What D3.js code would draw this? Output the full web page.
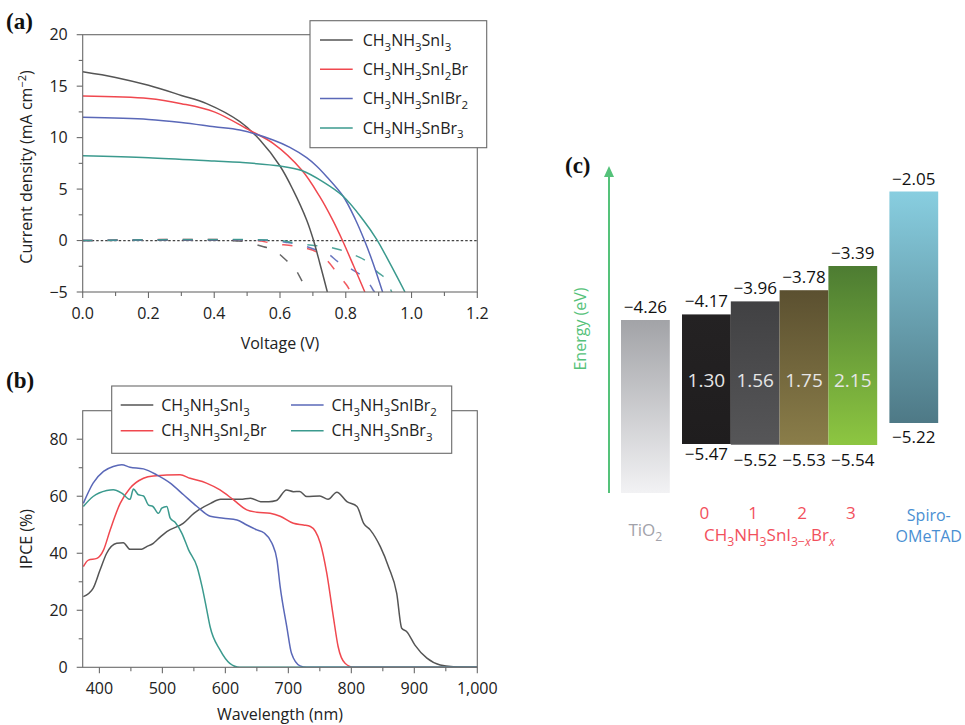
<!DOCTYPE html>
<html>
<head>
<meta charset="utf-8">
<script src="https://cdn.jsdelivr.net/npm/d3@7"></script>
<style>
  body { margin: 0; background: #fff; }
  svg { display: block; font-family: "Open Sans", "DejaVu Sans", sans-serif; }
</style>
</head>
<body>
<svg id="fig" width="965" height="725"></svg>
<script>
// ---- data: panel (a) J-V curves, [V, J] ----
const seriesNames = ["CH_3NH_3SnI_3", "CH_3NH_3SnI_2Br", "CH_3NH_3SnIBr_2", "CH_3NH_3SnBr_3"];
const seriesColors = ["#555555", "#f0484f", "#5a68b8", "#3b9a8e"];

const jvLight_SnI3 = [[0, 16.4], [0.1, 15.85], [0.2, 15.08], [0.3, 14.1], [0.377, 13.3], [0.478, 11.55], [0.539, 9.77],
  [0.6, 7.24], [0.64, 4.9], [0.681, 2.0], [0.701, 0.12], [0.721, -2.2], [0.744, -5]];
const jvLight_SnI2Br = [[0, 14.04], [0.2, 13.8], [0.3, 13.3], [0.4, 12.5], [0.508, 10.7], [0.579, 9.44], [0.666, 6.85],
  [0.721, 4.26], [0.76, 2.0], [0.79, 0], [0.823, -2.4], [0.858, -5]];
const jvLight_SnIBr2 = [[0, 11.97], [0.2, 11.77], [0.3, 11.48], [0.4, 11.06], [0.478, 10.74], [0.579, 9.77], [0.63, 9.05],
  [0.681, 8.05], [0.711, 7.24], [0.742, 6.2], [0.792, 4.3], [0.83, 2.0], [0.857, 0], [0.883, -2.2], [0.912, -5]];
const jvLight_SnBr3 = [[0, 8.24], [0.2, 8.05], [0.4, 7.73], [0.478, 7.6], [0.6, 7.24], [0.666, 6.8], [0.731, 5.7],
  [0.792, 4.3], [0.853, 2.0], [0.894, 0.12], [0.934, -2.2], [0.98, -5]];
const jvDark_SnI3 = [[0, 0], [0.44, 0], [0.49, -0.1], [0.55, -0.6], [0.58, -0.9], [0.624, -2.06], [0.645, -2.7],
  [0.676, -4.5], [0.685, -5]];
const jvDark_SnI2Br = [[0, 0], [0.53, 0], [0.58, -0.3], [0.655, -0.6], [0.711, -1.1], [0.742, -1.9], [0.782, -3.5],
  [0.802, -4.3], [0.815, -5]];
const jvDark_SnIBr2 = [[0, 0], [0.58, 0], [0.624, -0.2], [0.655, -0.35], [0.711, -0.9], [0.742, -1.2], [0.782, -2.2],
  [0.813, -2.7], [0.863, -3.8], [0.883, -4.8], [0.888, -5]];
const jvDark_SnBr3 = [[0, 0], [0.6, 0], [0.655, -0.3], [0.711, -0.5], [0.742, -0.6], [0.782, -0.9], [0.818, -1.3],
  [0.863, -2.0], [0.894, -3.0], [0.924, -3.8], [0.934, -4.6], [0.94, -5]];
const jvLight = [jvLight_SnI3, jvLight_SnI2Br, jvLight_SnIBr2, jvLight_SnBr3];
const jvDark = [jvDark_SnI3, jvDark_SnI2Br, jvDark_SnIBr2, jvDark_SnBr3];
const voltageTicks = [0, 0.2, 0.4, 0.6, 0.8, 1.0, 1.2];
const currentTicks = [-5, 0, 5, 10, 15, 20];

// ---- data: panel (b) IPCE, [nm, %] ----
const ipce_SnI3 = [[374.5, 24.8], [390, 27.7], [401, 34.1], [411.6, 40], [427.5, 43.5], [438, 43.7], [448.6, 41.4], [467, 41.4],
  [475, 42.3], [485.6, 43.5], [493, 45], [507, 47.6], [533, 50.5], [550, 54], [576.6, 57.5], [592.5, 58.9], [624, 58.9],
  [640, 59.3], [656, 58.1], [669, 58.1], [681, 58.5], [697, 62.2], [708, 61.6], [718, 61.7], [729, 59.9], [750, 60.1],
  [763, 58.9], [777, 61.4], [793, 58.1], [809, 56.4], [819.6, 50.5], [830, 48.2], [846, 42.3], [859, 35.3], [872, 26],
  [880, 13.7], [888, 12.5], [901, 7.8], [920, 3.2], [941, 0.8], [962, 0.2], [1000, 0]];
const ipce_SnI2Br = [[374.5, 35.3], [382.5, 37.6], [396, 38.2], [406.5, 41.1], [417, 48.1], [433, 57.5], [448.6, 62.8],
  [470, 66.3], [485.6, 67.1], [528, 67.5], [544, 66.3], [570, 64.6], [591.5, 62.2], [613, 58.7], [634, 55.2], [650, 54.4],
  [671, 54], [687, 53], [708, 50.5], [724, 49.9], [735, 49.4], [750.8, 43.5], [761, 33], [771.4, 17.8], [779, 7.3],
  [790, 1.4], [803, 0], [1000, 0]];
const ipce_SnIBr2 = [[374.5, 57.5], [390, 64.6], [406.5, 68.7], [422, 70.4], [435.5, 71], [448.6, 70.2], [470, 69.6],
  [491, 67.5], [512.5, 64.6], [533.6, 60.5], [555, 56.4], [576, 53], [597, 52.3], [618.5, 51.7], [634, 49.9], [650, 48.2],
  [661, 47.2], [674, 43.5], [682, 37.6], [687, 28.3], [697.5, 14.3], [705, 4.9], [718.5, 0.5], [729, 0], [1000, 0]];
const ipce_SnBr3 = [[374.5, 56.4], [390, 59.9], [411.6, 62], [422, 62.3], [435.5, 61.1], [448.6, 58.9], [454, 62.5],
  [462, 60.5], [470, 60.1], [478, 56.9], [485, 56.4], [494, 54], [499, 55.8], [507, 56.4], [512.5, 52.3], [520.5, 50.8],
  [531, 47], [541.6, 41.2], [555, 35.3], [563, 28.3], [570, 20.7], [575.7, 14.3], [591.5, 6.1], [607, 1.4], [623, 0], [1000, 0]];
const ipce = [ipce_SnI3, ipce_SnI2Br, ipce_SnIBr2, ipce_SnBr3];
const wavelengthTicks = [400, 500, 600, 700, 800, 900, 1000];
const ipceTicks = [0, 20, 40, 60, 80];

// ---- data: panel (c) energy levels (eV) ----
const bromineCount = ["0", "1", "2", "3"];
const perovskiteCB = [-4.17, -3.96, -3.78, -3.39];
const perovskiteVB = [-5.47, -5.52, -5.53, -5.54];
const bandGaps = ["1.30", "1.56", "1.75", "2.15"];
const tio2CB = -4.26;
const spiroLUMO = -2.05;
const spiroHOMO = -5.22;

const svg = d3.select("#fig");

// write "CH_3NH_3SnI_{3−x}Br_x" with subscripts
function rich(text, str, size) {
  const re = /_\{([^}]*)\}|_(.)|([^_]+)/g;
  let m, down = false;
  while ((m = re.exec(str))) {
    if (m[3]) {
      const t = text.append("tspan").text(m[3]);
      if (down) { t.attr("dy", -size * 0.3); down = false; }
    } else {
      const s = m[1] || m[2];
      const parts = s.endsWith("x") && s.length > 1 ? [s.slice(0, -1), "x"] : [s];
      parts.forEach(p => {
        const t = text.append("tspan").text(p).attr("font-size", size * 0.72);
        if (p === "x") t.attr("font-style", "italic");
        if (!down) { t.attr("dy", size * 0.3); down = true; }
      });
    }
  }
}

function panelLabel(x, y, s) {
  svg.append("text").attr("x", x).attr("y", y).text(s)
    .attr("font-family", "'Liberation Serif', 'Times New Roman', serif")
    .attr("font-weight", "bold").attr("font-size", 23).attr("fill", "#111");
}

function frame(xs, ys, xTicks, xMinor, yTicks, yMinor, fmtX) {
  const [x0, x1] = xs.range(), [y0, y1] = ys.range();
  const g = svg.append("g").attr("stroke", "#6a6a6a").attr("stroke-width", 1.1);
  g.append("rect").attr("x", x0).attr("y", y1).attr("width", x1 - x0).attr("height", y0 - y1).attr("fill", "none");
  xMinor.forEach(v => g.append("line").attr("x1", xs(v)).attr("x2", xs(v)).attr("y1", y0).attr("y2", y0 + 4));
  xTicks.forEach(v => g.append("line").attr("x1", xs(v)).attr("x2", xs(v)).attr("y1", y0).attr("y2", y0 + 6));
  yMinor.forEach(v => g.append("line").attr("x1", x0 - 4).attr("x2", x0).attr("y1", ys(v)).attr("y2", ys(v)));
  yTicks.forEach(v => g.append("line").attr("x1", x0 - 6).attr("x2", x0).attr("y1", ys(v)).attr("y2", ys(v)));
  svg.append("g").selectAll("text").data(xTicks).join("text")
    .attr("x", d => xs(d)).attr("y", y0 + 27).attr("text-anchor", "middle")
    .attr("font-size", 16).attr("fill", "#222").text(fmtX);
  svg.append("g").selectAll("text").data(yTicks).join("text")
    .attr("x", x0 - 15).attr("y", d => ys(d)).attr("dy", "0.35em").attr("text-anchor", "end")
    .attr("font-size", 16).attr("fill", "#222").text(d => d < 0 ? "\u2212" + Math.abs(d) : d);
}

// ================= panel (a) =================
const xA = d3.scaleLinear().domain([0, 1.2]).range([82.7, 477.3]);
const yA = d3.scaleLinear().domain([-5, 20]).range([292, 34.7]);
svg.append("clipPath").attr("id", "clipA").append("rect")
  .attr("x", xA(0)).attr("y", yA(20)).attr("width", xA(1.2) - xA(0)).attr("height", yA(-5) - yA(20));

svg.append("line").attr("x1", xA(0)).attr("x2", xA(1.2)).attr("y1", yA(0)).attr("y2", yA(0))
  .attr("stroke", "#444").attr("stroke-width", 1.3).attr("stroke-dasharray", "2.5,2");

const lineA = d3.line().x(d => xA(d[0])).y(d => yA(d[1])).curve(d3.curveCatmullRom.alpha(0.5));
const gA = svg.append("g").attr("clip-path", "url(#clipA)").attr("fill", "none").attr("stroke-width", 1.5);
jvDark.forEach((s, i) => gA.append("path").attr("d", lineA(s)).attr("stroke", seriesColors[i])
  .attr("stroke-dasharray", "10,15").attr("opacity", 0.9));
jvLight.forEach((s, i) => gA.append("path").attr("d", lineA(s)).attr("stroke", seriesColors[i]));

frame(xA, yA, voltageTicks, d3.range(0.1, 1.2, 0.2), currentTicks, d3.range(-2.5, 20, 5), d => d.toFixed(1));

svg.append("text").attr("x", 280).attr("y", 349).attr("text-anchor", "middle").attr("font-size", 16)
  .attr("fill", "#222").text("Voltage (V)");
const yLabA = svg.append("text").attr("transform", "translate(32,167) rotate(-90)").attr("text-anchor", "middle")
  .attr("font-size", 16).attr("fill", "#222");
yLabA.append("tspan").text("Current density (mA cm");
yLabA.append("tspan").text("\u22122").attr("font-size", 11).attr("dy", -6);
yLabA.append("tspan").text(")").attr("dy", 6);

const legA = svg.append("g");
legA.append("rect").attr("x", 310).attr("y", 20.7).attr("width", 176.7).attr("height", 127)
  .attr("fill", "#fff").attr("stroke", "#6a6a6a").attr("stroke-width", 1.1);
seriesNames.forEach((n, i) => {
  const y = 40 + i * 29.3;
  legA.append("line").attr("x1", 320).attr("x2", 352.7).attr("y1", y).attr("y2", y)
    .attr("stroke", seriesColors[i]).attr("stroke-width", 1.5);
  rich(legA.append("text").attr("x", 362.7).attr("y", y + 5.7).attr("font-size", 16).attr("fill", "#222"), n, 16);
});
panelLabel(6, 29, "(a)");

// ================= panel (b) =================
const xB = d3.scaleLinear().domain([373.5, 1000]).range([82.7, 477.3]);
const yB = d3.scaleLinear().domain([0, 90]).range([667.3, 410.7]);
svg.append("clipPath").attr("id", "clipB").append("rect")
  .attr("x", xB(373.5)).attr("y", yB(90)).attr("width", xB(1000) - xB(373.5)).attr("height", yB(0) - yB(90));
const lineB = d3.line().x(d => xB(d[0])).y(d => yB(d[1])).curve(d3.curveMonotoneX);
const gB = svg.append("g").attr("clip-path", "url(#clipB)").attr("fill", "none").attr("stroke-width", 1.5);
ipce.forEach((s, i) => gB.append("path").attr("d", lineB(s)).attr("stroke", seriesColors[i]));

frame(xB, yB, wavelengthTicks, d3.range(450, 1000, 100), ipceTicks, d3.range(10, 90, 20), d3.format(","));

svg.append("text").attr("x", 280).attr("y", 720).attr("text-anchor", "middle").attr("font-size", 16)
  .attr("fill", "#222").text("Wavelength (nm)");
svg.append("text").attr("transform", "translate(32,539) rotate(-90)").attr("text-anchor", "middle")
  .attr("font-size", 16).attr("fill", "#222").text("IPCE (%)");

const legB = svg.append("g");
legB.append("rect").attr("x", 111.7).attr("y", 386).attr("width", 340).attr("height", 67.3)
  .attr("fill", "#fff").attr("stroke", "#6a6a6a").attr("stroke-width", 1.1);
seriesNames.forEach((n, i) => {
  const col = i === 0 || i === 1 ? 0 : 1;
  const row = i === 0 || i === 2 ? 0 : 1;
  const lx = col === 0 ? 120.7 : 291, y = 405 + row * 25.7;
  legB.append("line").attr("x1", lx).attr("x2", lx + 32.6).attr("y1", y).attr("y2", y)
    .attr("stroke", seriesColors[i]).attr("stroke-width", 1.5);
  rich(legB.append("text").attr("x", lx + 40.5).attr("y", y + 5.7).attr("font-size", 16).attr("fill", "#222"), n, 16);
});
panelLabel(6, 388, "(b)");

// ================= panel (c) =================
// schematic energy axis (compressed between levels)
const yC = d3.scaleLinear()
  .domain([-6.2, -5.54, -5.47, -5.22, -4.26, -3.39, -2.05])
  .range([493, 445, 444, 423, 320, 266, 191.5]);
const slotW = 48.8;
const xC = d3.scaleLinear().domain([0, 1]).range([621, 621 + slotW]);
const perovSlot = perovskiteCB.map((d, i) => 1.25 + i);
const spiroSlot = 5.5;

const defs = svg.append("defs");
function grad(id, top, bottom) {
  const g = defs.append("linearGradient").attr("id", id).attr("x1", 0).attr("x2", 0).attr("y1", 0).attr("y2", 1);
  g.append("stop").attr("offset", "0%").attr("stop-color", top);
  g.append("stop").attr("offset", "100%").attr("stop-color", bottom);
}
grad("gTiO2", "#a2a3a7", "#f2f2f4");
grad("gP0", "#242223", "#1f1d1e");
grad("gP1", "#414143", "#565658");
grad("gP2", "#5b5030", "#8a7d49");
grad("gP3", "#4d7c32", "#8dc641");
grad("gSpiro", "#88cee0", "#4e7986");

// arrow
const arrowX = 609;
svg.append("line").attr("x1", arrowX).attr("x2", arrowX).attr("y1", yC(-6.2)).attr("y2", 174)
  .attr("stroke", "#55c27a").attr("stroke-width", 2);
svg.append("path").attr("d", `M${arrowX},166 L${arrowX - 5},177 L${arrowX + 5},177 Z`).attr("fill", "#55c27a");
svg.append("text").attr("transform", "translate(586,329) rotate(-90)").attr("text-anchor", "middle")
  .attr("font-size", 16).attr("fill", "#55c27a").text("Energy (eV)");

const minus = v => "\u2212" + Math.abs(v).toFixed(2);
const labC = (x, y, s) => svg.append("text").attr("x", x).attr("y", y).attr("text-anchor", "middle")
  .attr("font-size", 17).attr("fill", "#111").text(s);

// TiO2
svg.append("rect").attr("x", xC(0)).attr("y", yC(tio2CB)).attr("width", slotW)
  .attr("height", yC(-6.2) - yC(tio2CB)).attr("fill", "url(#gTiO2)");
labC(xC(0.5), yC(tio2CB) - 7, minus(tio2CB));

// perovskites
perovskiteCB.forEach((cb, i) => {
  const x = xC(perovSlot[i]);
  svg.append("rect").attr("x", x).attr("y", yC(cb)).attr("width", slotW)
    .attr("height", yC(perovskiteVB[i]) - yC(cb)).attr("fill", `url(#gP${i})`);
  labC(x + slotW / 2, yC(cb) - 7, minus(cb));
  labC(x + slotW / 2, yC(perovskiteVB[i]) + (i === 0 ? 16 : 21), minus(perovskiteVB[i]));
  svg.append("text").attr("x", x + slotW / 2).attr("y", 387).attr("text-anchor", "middle")
    .attr("font-size", 19).attr("fill", "#e6e6e6").text(bandGaps[i]);
  svg.append("text").attr("x", x + slotW / 2 - 2).attr("y", 519).attr("text-anchor", "middle")
    .attr("font-size", 17).attr("fill", "#f2505c").text(bromineCount[i]);
});

// spiro
svg.append("rect").attr("x", xC(spiroSlot)).attr("y", yC(spiroLUMO)).attr("width", slotW)
  .attr("height", yC(spiroHOMO) - yC(spiroLUMO)).attr("fill", "url(#gSpiro)");
labC(xC(spiroSlot + 0.5), yC(spiroLUMO) - 7, minus(spiroLUMO));
labC(xC(spiroSlot + 0.5), yC(spiroHOMO) + 20, minus(spiroHOMO));

// category labels
rich(svg.append("text").attr("x", xC(0.5)).attr("y", 536).attr("text-anchor", "middle")
  .attr("font-size", 17).attr("fill", "#a2a2aa"), "TiO_2", 17);
rich(svg.append("text").attr("x", xC(perovSlot[0]) + 22).attr("y", 541).attr("font-size", 17)
  .attr("fill", "#f2505c"), "CH_3NH_3SnI_{3\u2212x}Br_x", 17);
svg.append("text").attr("x", xC(spiroSlot + 0.5) + 15).attr("y", 521).attr("text-anchor", "middle")
  .attr("font-size", 16).attr("fill", "#4a8fd2").text("Spiro-");
svg.append("text").attr("x", xC(spiroSlot + 0.5) + 15).attr("y", 542).attr("text-anchor", "middle")
  .attr("font-size", 16).attr("fill", "#4a8fd2").text("OMeTAD");
panelLabel(565, 173, "(c)");
</script>
</body>
</html>
